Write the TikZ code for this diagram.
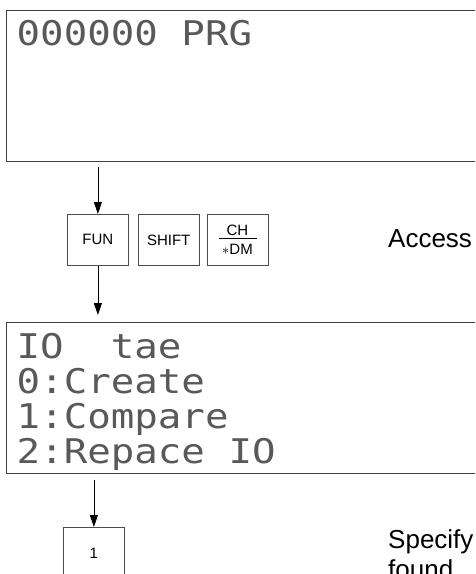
\documentclass[tikz,border=0pt]{standalone}
\usepackage{fontspec}
\setmainfont{Liberation Sans}
\newfontfamily\lcdfont[FakeStretch=1.15]{DejaVu Sans Mono}
\usetikzlibrary{arrows.meta,positioning}
% one blank cell of the display
\newcommand\lcdgap{\phantom{0}}

\begin{document}
\begin{tikzpicture}[x=1pt,y=1pt,
  node distance=8pt,
  lcd/.style={draw=black!75,line width=1.4pt,anchor=north west,
    minimum width=520pt,minimum height=151pt,text width=500pt,
    align=left,inner xsep=8pt,text depth=105pt,text=black!65,
    font=\lcdfont\fontsize{34}{35}\selectfont},
  key/.style={draw=black!70,line width=0.8pt,minimum width=61pt,
    minimum height=51pt,inner sep=2pt,align=center,
    font=\fontsize{15}{17}\selectfont},
  note/.style={anchor=base west,align=left,inner sep=0pt,
    font=\fontsize{26}{30}\selectfont},
  arrow/.style={-{Triangle[length=12pt,width=8pt]},line width=0.8pt}
]
\useasboundingbox (0,0) rectangle (475,-574);
\clip (0,0) rectangle (475,-574);
% displays
\node[lcd] (prg) at (6,-9.5) {000000\lcdgap PRG\\ \mbox{}\\ \mbox{}\\ \mbox{}};
\node[lcd] (menu) at (6,-322)
  {IO\lcdgap\lcdgap tae\\0:Create\\1:Compare\\2:Repace\lcdgap IO};
% keys
\node[key,anchor=north west] (fun) at (67,-214) {FUN};
\node[key,right=9pt of fun] (shift) {SHIFT};
\node[key,right=7pt of shift] (chdm)
  {CH\\[-14pt]\rule{38pt}{0.7pt}\\[-1pt]$\ast$DM};
\node[key,anchor=north west] (one) at (63,-527) {1};
% notes
\node[note] (access) at (388,-247) {Access};
\node[note] (specify) at (388,-578) {Specify\\found.};
% arrows
\draw[arrow,shorten <=5pt] (prg.south -| fun.north) -- (fun.north);
\draw[arrow,shorten >=7pt] (fun.south) -- (fun.south |- menu.north);
\draw[arrow,shorten <=6pt] (menu.south -| one.north) -- (one.north);
\end{tikzpicture}
\end{document}
